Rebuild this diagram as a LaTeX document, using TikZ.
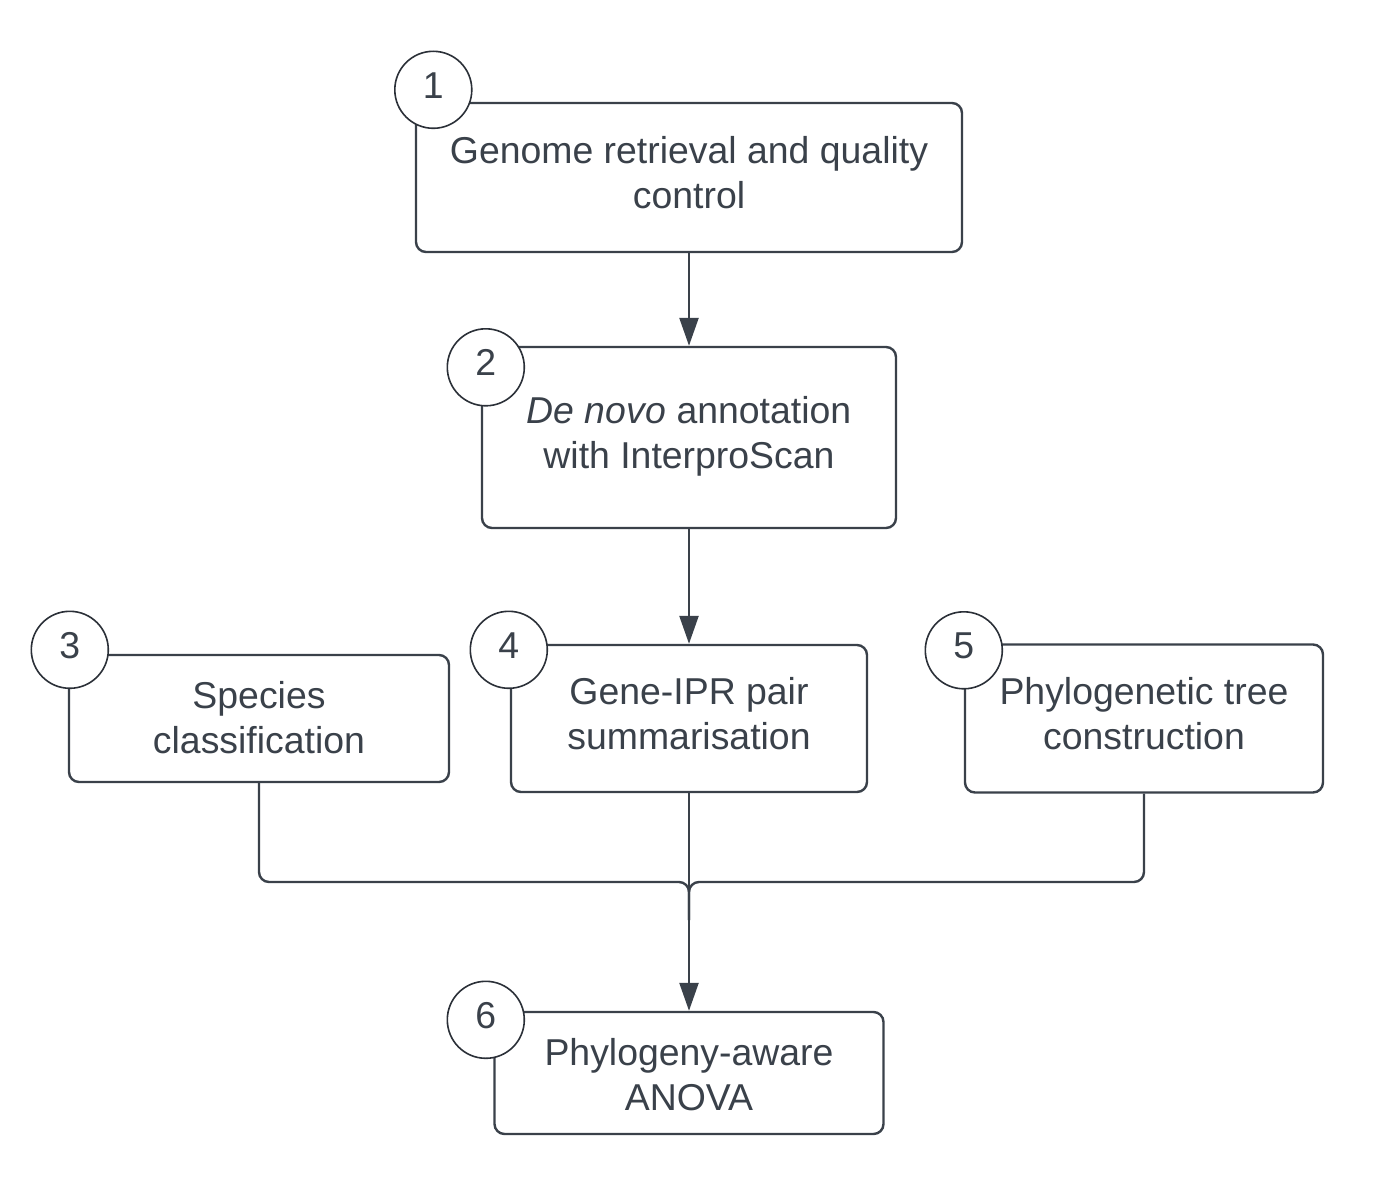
\documentclass[tikz,border=0pt]{standalone}
\usepackage{fontspec}
\setmainfont{Liberation Sans}
\usetikzlibrary{arrows.meta}
\definecolor{lucid}{HTML}{3A414A}
\definecolor{ringc}{HTML}{2B3038}
\begin{document}
\begin{tikzpicture}[x=1pt,y=-1pt]
\useasboundingbox[fill=white] (0,0) rectangle (1384,1183);
\tikzstyle{stage} = [rectangle, rounded corners=10pt, text centered, align=center, draw=lucid, text=lucid, line width=2.4pt, inner sep=0pt, text height=72.5pt, text depth=11pt, font=\fontsize{37.4pt}{45pt}\selectfont]
\tikzstyle{num} = [circle, draw=ringc, fill=white, text=lucid, line width=1.6pt, minimum size=77pt, inner sep=0pt, text height=27pt, text depth=10pt, font=\fontsize{37.4pt}{45pt}\selectfont]
\node (gen) [stage, minimum width=546pt, minimum height=149pt] at (689,177.5) {Genome retrieval and quality\\control};
\node (anno) [stage, minimum width=414pt, minimum height=181pt, node distance=260pt, below of=gen] {\textit{De novo} annotation\\with InterproScan};
\node (pair) [stage, minimum width=356pt, minimum height=147pt, node distance=281pt, below of=anno] {Gene-IPR pair\\summarisation};
\node (spec) [stage, minimum width=380pt, minimum height=127pt, text depth=3pt, node distance=430pt, left of=pair] {Species\\classification};
\node (tree) [stage, minimum width=358pt, minimum height=148pt, node distance=455pt, right of=pair] {Phylogenetic tree\\construction};
\node (anova) [stage, minimum width=389pt, minimum height=122pt, text height=75pt, text depth=0pt, node distance=354.5pt, below of=pair] {Phylogeny-aware\\ANOVA};
% step numbers
\node (n1) [num] at ([xshift=18.5pt,yshift=12pt]gen.north west) {1};
\node (n2) [num] at ([xshift=5pt,yshift=-21.5pt]anno.north west) {2};
\node (n3) [num] at ([xshift=2pt,yshift=4pt]spec.north west) {3};
\node (n4) [num] at ([xshift=-1pt,yshift=-6pt]pair.north west) {4};
\node (n5) [num] at ([yshift=-7pt]tree.north west) {5};
\node (n6) [num] at ([xshift=-7.5pt,yshift=-9pt]anova.north west) {6};
\tikzstyle{arrow} = [line width=2.4pt, draw=lucid, ->, >={Triangle[length=28pt,width=19pt]}]
\tikzstyle{link} = [line width=2.4pt, draw=lucid, rounded corners=10pt]
\coordinate (merge) at (689,882);
\coordinate (mergeout) at (689,920);
\draw [arrow] (gen) -- (anno);
\draw [arrow] (anno) -- (pair);
\draw [arrow] (pair.south) -- (pair.south |- anova.north);
\draw [link] (spec.south) |- (merge) -- (mergeout);
\draw [link] (tree.south) |- (merge) -- (mergeout);
\end{tikzpicture}
\end{document}
